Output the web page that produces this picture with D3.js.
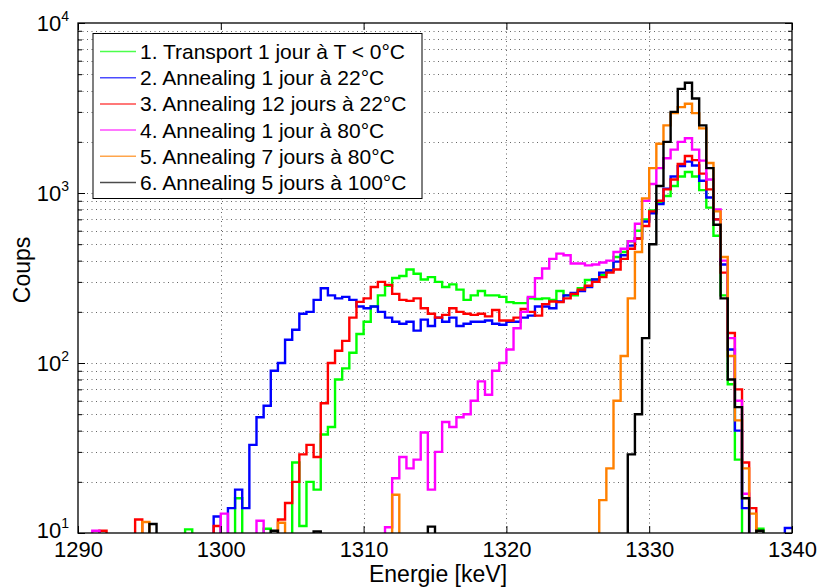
<!DOCTYPE html>
<html>
<head>
<meta charset="utf-8">
<script src="https://cdn.jsdelivr.net/npm/d3@7"></script>
<style>
  body { margin: 0; background: #fff; }
  svg text { font-family: 'Liberation Sans', Arial, sans-serif; fill: #000; }
</style>
</head>
<body>
<div id="chart"></div>
<script>
//
// Spectra (counts per 0.5 keV bin), first bin starts at energyStart
//
const energyStart = 1290
const binWidth = 0.5

const transport = [
  0, 0, 0, 0, 0, 0, 0, 0, 0, 0,
  0, 0, 0, 0, 0, 10.5, 0, 0, 0, 0,
  0, 0, 16, 0, 0, 0, 10.6, 0, 0, 0,
  26, 11, 20, 18, 38, 42, 80, 93, 115, 148,
  175, 215, 250, 285, 316, 325, 355, 335, 310, 320,
  300, 280, 290, 270, 235, 250, 265, 250, 250, 245,
  228, 225, 225, 240, 238, 240, 235, 265, 250, 250,
  275, 308, 310, 330, 350, 420, 450, 520, 600, 700,
  790, 880, 960, 1100, 1250, 1330, 1250, 1040, 820, 560,
  250, 75, 27, 0, 0, 10.6, 0, 0, 0, 0
]
const anneal1j22 = [
  0, 0, 0, 0, 0, 0, 0, 0, 0, 0,
  0, 0, 0, 0, 0, 0, 0, 0, 0, 12.5,
  0, 14, 18, 14, 33, 48, 56, 90, 100, 137,
  157, 195, 200, 235, 275, 250, 240, 245, 235, 215,
  210, 215, 200, 185, 175, 170, 175, 155, 180, 165,
  185, 175, 185, 165, 170, 175, 175, 178, 170, 168,
  175, 175, 185, 190, 215, 215, 210, 230, 250, 258,
  265, 280, 310, 340, 350, 395, 430, 490, 540, 680,
  760, 860, 1060, 1250, 1440, 1530, 1450, 1180, 940, 700,
  380, 120, 40, 14, 0, 0, 0, 0, 0, 10.7
]
const anneal12j22 = [
  0, 0, 0, 10.3, 0, 0, 0, 0, 12, 0,
  0, 0, 0, 0, 0, 0, 0, 0, 0, 11,
  0, 0, 0, 0, 0, 0, 0, 0, 12, 15,
  20, 29, 33, 28, 58, 100, 118, 135, 185, 229,
  240, 280, 300, 288, 255, 235, 232, 240, 210, 195,
  185, 192, 210, 200, 195, 192, 195, 188, 205, 178,
  178, 185, 208, 200, 190, 222, 230, 228, 240, 255,
  270, 285, 300, 320, 340, 355, 410, 470, 540, 640,
  780, 900, 1050, 1200, 1480, 1650, 1560, 1300, 1050, 700,
  340, 150, 70, 26, 14, 0, 0, 0, 0, 0
]
const anneal1j80 = [
  0, 0, 10.3, 0, 0, 0, 0, 0, 0, 0,
  0, 0, 0, 0, 0, 0, 0, 0, 0, 0,
  13, 0, 0, 0, 0, 11.8, 0, 0, 0, 0,
  0, 0, 0, 0, 0, 0, 0, 0, 0, 0,
  0, 0, 0, 10.8, 21, 28, 24, 27, 39, 18,
  30, 45, 42, 48, 50, 60, 78, 65, 90, 100,
  120, 160, 200, 245, 315, 360, 410, 440, 430, 385,
  385, 375, 380, 390, 400, 450, 470, 520, 660, 900,
  1130, 1400, 1600, 1800, 2000, 2100, 1800, 1550, 1200, 800,
  400, 140, 60, 17, 0, 0, 0, 0, 0, 0
]
const anneal7j80 = [
  0, 0, 0, 0, 0, 0, 0, 0, 0, 11.6,
  0, 0, 0, 0, 0, 0, 0, 0, 0, 0,
  0, 0, 0, 0, 0, 0, 0, 0, 11.5, 0,
  0, 0, 0, 0, 0, 0, 0, 0, 0, 0,
  0, 0, 0, 0, 16.8, 0, 0, 0, 0, 0,
  0, 0, 0, 0, 0, 0, 0, 0, 0, 0,
  0, 0, 0, 0, 0, 0, 0, 0, 0, 0,
  0, 0, 0, 15.6, 24, 60, 110, 240, 450, 930,
  1400, 1950, 2500, 2950, 3200, 3350, 2950, 2400, 1500, 780,
  420, 110, 46, 24, 13, 0, 0, 0, 0, 0
]
const anneal5j100 = [
  0, 0, 0, 0, 0, 0, 0, 0, 0, 0,
  11.3, 0, 0, 0, 0, 0, 0, 0, 0, 0,
  0, 0, 0, 0, 0, 0, 0, 10.3, 0, 0,
  0, 0, 0, 10.2, 0, 0, 0, 0, 0, 0,
  0, 0, 0, 0, 0, 0, 0, 0, 0, 10.9,
  0, 0, 0, 0, 0, 0, 0, 0, 0, 0,
  0, 0, 0, 0, 0, 0, 0, 0, 0, 0,
  0, 0, 0, 0, 0, 0, 0, 29, 50, 140,
  500, 1100, 2000, 3000, 4100, 4450, 3600, 2500, 1400, 650,
  240, 80, 55, 16, 0, 10.3, 0, 0, 0, 0
]

const legendLabels = [
  '1. Transport 1 jour à T < 0°C',
  '2. Annealing 1 jour à 22°C',
  '3. Annealing 12 jours à 22°C',
  '4. Annealing 1 jour à 80°C',
  '5. Annealing 7 jours à 80°C',
  '6. Annealing 5 jours à 100°C'
]
const xTicks = [1290, 1300, 1310, 1320, 1330, 1340]
const yDecades = [10, 100, 1000, 10000]

const spectra = [transport, anneal1j22, anneal12j22, anneal1j80, anneal7j80, anneal5j100]
const colours = ['#00ff00', '#0000ff', '#ff0000', '#ff00ff', '#ff8000', '#000000']

//
// Layout
//
const width = 817
const height = 587
const plot = { left: 78, right: 792, top: 23, bottom: 533 }

const svg = d3.select('#chart')
  .append('svg')
  .attr('width', width)
  .attr('height', height)

const x = d3.scaleLinear().domain([1290, 1340]).range([plot.left, plot.right])
const y = d3.scaleLog().domain([10, 10000]).range([plot.bottom, plot.top])

// minor log ticks 2..9 in each decade
const yMinor = []
yDecades.slice(0, -1).forEach(d => { for (let m = 2; m <= 9; m++) yMinor.push(d * m) })

//
// Dotted grid
//
const grid = svg.append('g').attr('stroke', '#666').attr('stroke-width', 1).attr('stroke-dasharray', '1,3.5')
grid.selectAll('line.h')
  .data(yMinor.concat(yDecades.slice(1, -1)))
  .enter().append('line')
  .attr('x1', plot.left).attr('x2', plot.right)
  .attr('y1', d => Math.round(y(d)) + 0.5).attr('y2', d => Math.round(y(d)) + 0.5)
grid.selectAll('line.v')
  .data(xTicks.slice(1, -1))
  .enter().append('line')
  .attr('y1', plot.top).attr('y2', plot.bottom)
  .attr('x1', d => Math.round(x(d)) + 0.5).attr('x2', d => Math.round(x(d)) + 0.5)

//
// Spectra as stairs
//
svg.append('clipPath').attr('id', 'clip')
  .append('rect')
  .attr('x', plot.left).attr('y', plot.top)
  .attr('width', plot.right - plot.left).attr('height', plot.bottom - plot.top)

function stairs (counts) {
  const pts = counts.map((c, i) => [energyStart + i * binWidth, Math.max(c, 1)])
  pts.push([energyStart + counts.length * binWidth, Math.max(counts[counts.length - 1], 1)])
  return pts
}
const line = d3.line()
  .x(d => x(d[0]))
  .y(d => y(d[1]))
  .curve(d3.curveStepAfter)

svg.append('g')
  .attr('clip-path', 'url(#clip)')
  .selectAll('path')
  .data(spectra)
  .enter().append('path')
  .attr('d', d => line(stairs(d)))
  .attr('fill', 'none')
  .attr('stroke', (d, i) => colours[i])
  .attr('stroke-width', 2.4)

//
// Axes (ticks inside, mirrored on top and right)
//
const axisStyle = g => {
  g.select('.domain').remove()
  g.selectAll('line').attr('stroke', '#000')
}
svg.append('g')
  .attr('transform', 'translate(0,' + plot.bottom + ')')
  .call(d3.axisBottom(x).tickValues(xTicks).tickSizeInner(-7).tickSizeOuter(0).tickPadding(8).tickFormat(d3.format('d')))
  .call(axisStyle)
  .selectAll('text')
  .style('font-size', '22px')
svg.append('g')
  .attr('transform', 'translate(0,' + plot.top + ')')
  .call(d3.axisTop(x).tickValues(xTicks).tickSizeInner(-7).tickSizeOuter(0).tickFormat(''))
  .call(axisStyle)
svg.append('g')
  .attr('transform', 'translate(' + plot.left + ',0)')
  .call(d3.axisLeft(y).tickValues(yDecades).tickSizeInner(-7).tickSizeOuter(0).tickFormat(''))
  .call(axisStyle)
svg.append('g')
  .attr('transform', 'translate(' + plot.left + ',0)')
  .call(d3.axisLeft(y).tickValues(yMinor).tickSizeInner(-4).tickSizeOuter(0).tickFormat(''))
  .call(axisStyle)
svg.append('g')
  .attr('transform', 'translate(' + plot.right + ',0)')
  .call(d3.axisRight(y).tickValues(yDecades).tickSizeInner(-7).tickSizeOuter(0).tickFormat(''))
  .call(axisStyle)
svg.append('g')
  .attr('transform', 'translate(' + plot.right + ',0)')
  .call(d3.axisRight(y).tickValues(yMinor).tickSizeInner(-4).tickSizeOuter(0).tickFormat(''))
  .call(axisStyle)

// y labels as 10^n
const yLabels = svg.append('g')
  .selectAll('text')
  .data(yDecades)
  .enter().append('text')
  .attr('x', plot.left - 9)
  .attr('y', d => y(d) + (d === 10 ? 5 : 8))
  .attr('text-anchor', 'end')
  .style('font-size', '22px')
yLabels.append('tspan').text('10')
yLabels.append('tspan')
  .attr('dy', -10)
  .style('font-size', '14px')
  .text(d => Math.round(Math.log10(d)))

// frame
svg.append('rect')
  .attr('x', plot.left).attr('y', plot.top)
  .attr('width', plot.right - plot.left).attr('height', plot.bottom - plot.top)
  .attr('fill', 'none').attr('stroke', '#000').attr('stroke-width', 1.3)

// axis titles
svg.append('text')
  .attr('x', 438)
  .attr('y', 582)
  .attr('text-anchor', 'middle')
  .style('font-size', '23px')
  .text('Energie [keV]')
svg.append('text')
  .attr('transform', 'translate(30,' + 270 + ')rotate(-90)')
  .attr('text-anchor', 'middle')
  .style('font-size', '23px')
  .text('Coups')

//
// Legend
//
const legend = svg.append('g')
legend.append('rect')
  .attr('x', 93).attr('y', 33.5)
  .attr('width', 329).attr('height', 165)
  .attr('fill', '#fff').attr('stroke', '#000').attr('stroke-width', 1)
const items = legend.selectAll('g.item')
  .data(legendLabels)
  .enter().append('g')
  .attr('transform', (d, i) => 'translate(0,' + (51.5 + i * 26.2) + ')')
items.append('line')
  .attr('x1', 100).attr('x2', 136)
  .attr('stroke', (d, i) => colours[i])
  .attr('stroke-width', 1.5)
  .attr('opacity', 0.7)
items.append('text')
  .attr('x', 140)
  .attr('y', 7.5)
  .style('font-size', '21px')
  .text(d => d)
</script>
</body>
</html>
